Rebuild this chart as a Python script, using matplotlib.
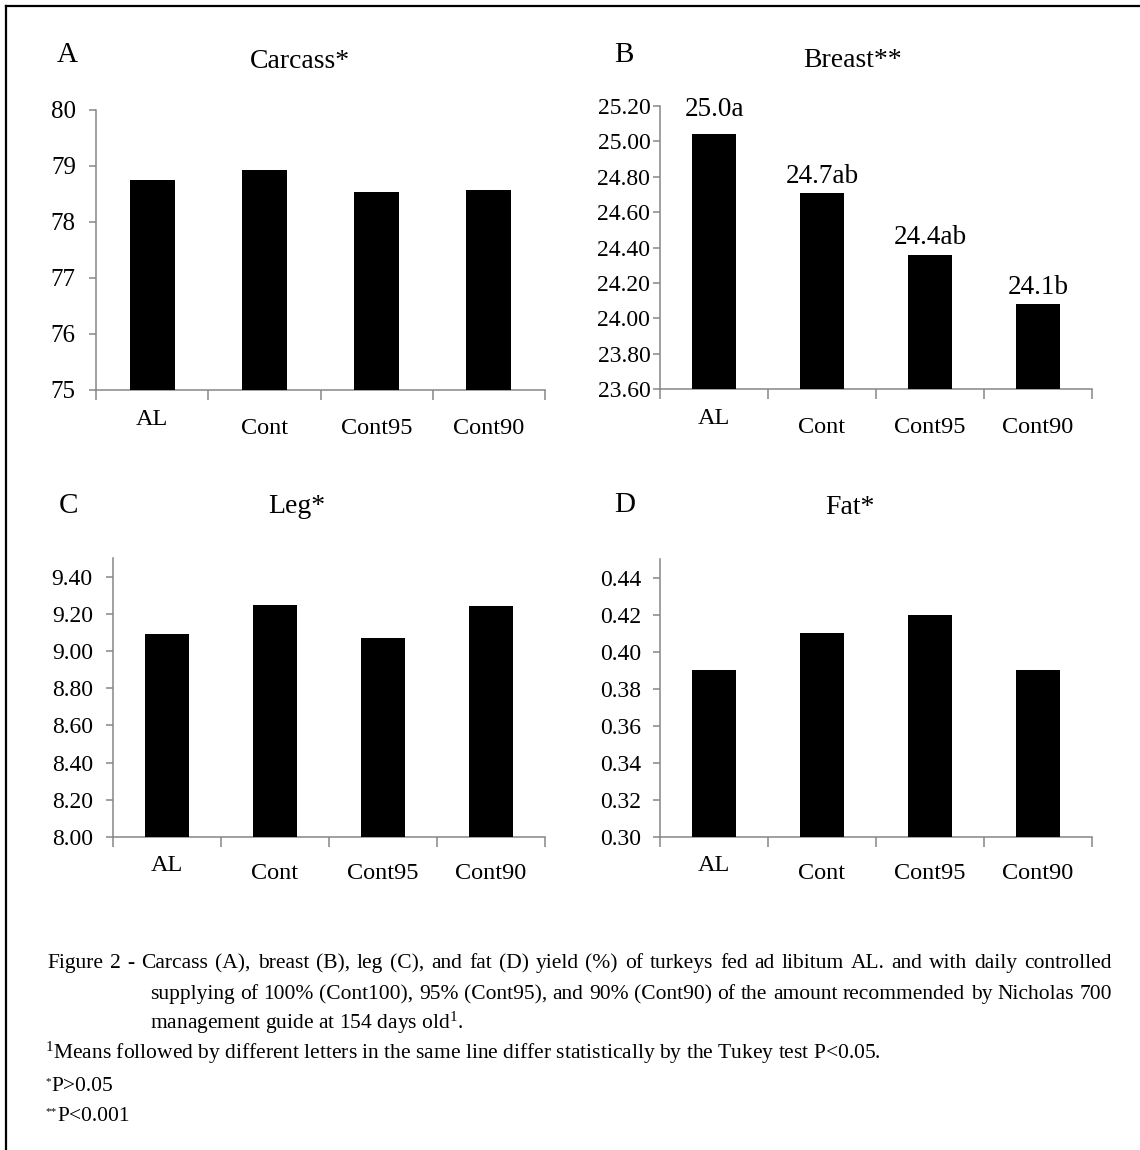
import matplotlib
matplotlib.use('Agg')
import matplotlib.pyplot as plt
from matplotlib.lines import Line2D
from matplotlib.ticker import MultipleLocator, FormatStrFormatter

plt.rcParams['font.family'] = ['Liberation Serif', 'DejaVu Serif']
plt.rcParams['mathtext.fontset'] = 'custom'
plt.rcParams['mathtext.rm'] = 'Liberation Serif'
plt.rcParams['mathtext.it'] = 'Liberation Serif:italic'

# data
groups = ['AL', 'Cont', 'Cont95', 'Cont90']
carcass = [78.75, 78.93, 78.53, 78.57]
breast = [25.04, 24.71, 24.36, 24.08]
breast_labels = ['25.0a', '24.7ab', '24.4ab', '24.1b']
leg = [9.09, 9.25, 9.07, 9.24]
fat = [0.39, 0.41, 0.42, 0.39]

caption = [
    "Figure  2 - Carcass (A), breast (B), leg (C), and fat (D) yield (%) of turkeys fed ad libitum AL. and with daily controlled",
    "supplying of 100% (Cont100), 95% (Cont95), and 90% (Cont90) of the amount recommended by Nicholas 700",
    "management guide at 154 days old$^{1}$.",
    "$^{1}$Means followed by different letters in the same line differ statistically by the Tukey test P<0.05.",
]
notes = [('*', 'P>0.05'), ('**', 'P<0.001')]

W, H = 1140, 1150
fig = plt.figure(figsize=(W / 100, H / 100), dpi=100)
AXC = '#868686'
CAP = 15.5


def px_axes(l, r, t, b):
    return fig.add_axes([l / W, 1 - b / H, (r - l) / W, (b - t) / H])


def ftext(x, y, s, **kw):
    return fig.text(x / W, 1 - y / H, s, **kw)


def justify(line, x0, x1, y):
    # spread the words of one caption line between x0 and x1 (justified text)
    words = line.split()
    arts = [ftext(x0, y, w, fontsize=CAP, va='baseline', ha='left') for w in words]
    r = fig.canvas.get_renderer()
    widths = [a.get_window_extent(r).width for a in arts]
    gap = (x1 - x0 - sum(widths)) / (len(words) - 1)
    x = x0
    for a, w in zip(arts, widths):
        a.set_x(x / W)
        x += w + gap


def panel(box, vals, ylim, step, fmt, ysize, ypad, xpad):
    ax = px_axes(*box)
    x = range(len(groups))
    bars = ax.bar(x, vals, width=0.4, color='black', zorder=3)
    ax.set_xlim(-0.5, len(groups) - 0.5)
    ax.set_ylim(*ylim)
    ax.yaxis.set_major_locator(MultipleLocator(step))
    ax.yaxis.set_major_formatter(FormatStrFormatter(fmt))
    ax.set_xticks([i - 0.5 for i in range(len(groups) + 1)])
    ax.set_xticklabels([])
    ax.set_xticks(list(x), minor=True)
    ax.set_xticklabels(groups, minor=True, fontsize=17.5)
    ax.tick_params(axis='x', which='major', length=7, width=1.1, color=AXC, direction='out')
    ax.tick_params(axis='x', which='minor', length=0, pad=xpad)
    ax.tick_params(axis='y', length=5, width=1.1, color=AXC, labelsize=ysize, pad=ypad)
    # AL label sits a little higher in the original
    ax.xaxis.get_minor_ticks()[0].set_pad(xpad - 6)
    for s in ['top', 'right']:
        ax.spines[s].set_visible(False)
    for s in ['left', 'bottom']:
        ax.spines[s].set_color(AXC)
        ax.spines[s].set_linewidth(1.1)
    ax.patch.set_alpha(0)
    return ax, bars


axA, _ = panel((96, 545, 110, 390), carcass, (75, 80), 1, '%d', 18, 9.5, 20)
axB, barsB = panel((660, 1092, 106, 389), breast, (23.6, 25.2), 0.2, '%.2f', 17, 2, 20)
axC, _ = panel((113, 545, 558, 837), leg, (8.0, 9.5), 0.2, '%.2f', 17, 9.5, 19)
axD, _ = panel((660, 1092, 559, 837), fat, (0.30, 0.45), 0.02, '%.2f', 17, 8.5, 19)

# letters above the breast bars
lift = [9, 3, 3, 3]
for rect, lab, dy in zip(barsB, breast_labels, lift):
    axB.annotate(lab, (rect.get_x() + rect.get_width() / 2, rect.get_height()),
                 xytext=(0, dy), textcoords='offset points',
                 ha='center', va='bottom', fontsize=19.5)

# panel letters and titles
for x, y, s in [(57, 62, 'A'), (614, 62, 'B'), (59, 513, 'C'), (614, 512, 'D')]:
    ftext(x, y, s, fontsize=21, va='baseline', ha='left')
for x, y, s in [(300, 68, 'Carcass*'), (853, 67, 'Breast**'), (297, 513, 'Leg*'), (850, 514, 'Fat*')]:
    ftext(x, y, s, fontsize=20, va='baseline', ha='center')

# caption
justify(caption[0], 47, 1112, 968)
justify(caption[1], 150, 1112, 999)
ftext(150, 1029, caption[2], fontsize=CAP, va='baseline', ha='left')
ftext(45, 1059, caption[3], fontsize=CAP, va='baseline', ha='left')
for (star, txt), y in zip(notes, [1091, 1121]):
    ftext(45, y - 7, star, fontsize=8, va='baseline', ha='left')
    ftext(46 + 5.8 * len(star), y, txt, fontsize=CAP, va='baseline', ha='left')

# frame: top and left only
fig.add_artist(Line2D([6 / W, 1], [1 - 6 / H, 1 - 6 / H], color='black', lw=1.6, transform=fig.transFigure))
fig.add_artist(Line2D([6 / W, 6 / W], [1 - 6 / H, 0], color='black', lw=1.6, transform=fig.transFigure))

fig.savefig('out.png', dpi=100)
